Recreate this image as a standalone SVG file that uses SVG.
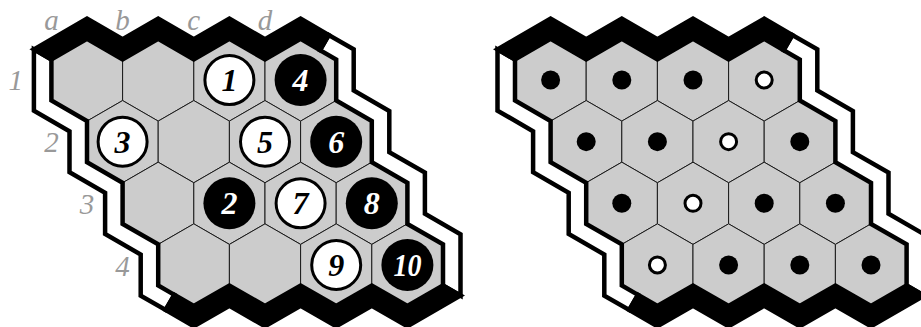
<svg xmlns="http://www.w3.org/2000/svg" xmlns:xlink="http://www.w3.org/1999/xlink" width="921" height="327" viewBox="0 0 921 327">
<style>
.cell{fill:#cccccc;stroke:#1a1a1a;stroke-width:1}
.bk{fill:#000;stroke:#000;stroke-width:4.5;stroke-linejoin:miter}
.wt{fill:#fff;stroke:#000;stroke-width:4.5;stroke-linejoin:miter}
.ws{fill:#fff;stroke:#000;stroke-width:3}
.bs{fill:#000}
.num{font-family:"Liberation Serif",serif;font-style:italic;font-weight:bold;font-size:32px;text-anchor:middle}
.nw{fill:#000}
.nb{fill:#fff}
.lbl{font-family:"Liberation Serif",serif;font-style:italic;font-size:29px;fill:#999;text-anchor:middle}
.dw{fill:#fff;stroke:#000;stroke-width:3}
.db{fill:#000}
</style>
<defs>
<polygon id="hex" points="0,-41.1 35.6,-20.55 35.6,20.55 0,41.1 -35.6,20.55 -35.6,-20.55"/>
<g id="frame">
<polygon class="wt" points="320,50.1 328.75,34.95 353.7,49.35 353.7,90.45 389.3,111 389.3,152.1 424.9,172.65 424.9,213.75 460.5,234.3 460.5,295.6 443,285.5 443,244.4 407.4,223.85 407.4,182.75 371.8,162.2 371.8,121.1 336.2,100.55 336.2,59.45"/>
<polygon class="wt" points="174.4,294.85 158.2,285.5 158.2,244.4 122.6,223.85 122.6,182.75 87,162.2 87,121.1 51.4,100.55 51.4,59.45 33.9,49.35 33.9,110.65 69.5,131.2 69.5,172.3 105.1,192.85 105.1,233.95 140.7,254.5 140.7,295.6 165.65,310"/>
<polygon class="bk" points="33.9,49.35 87,18.7 122.6,39.25 158.2,18.7 193.8,39.25 229.4,18.7 265,39.25 300.6,18.7 328.75,34.95 320,50.1 300.6,38.9 265,59.45 229.4,38.9 193.8,59.45 158.2,38.9 122.6,59.45 87,38.9 51.4,59.45"/>
<polygon class="bk" points="443,285.5 407.4,306.05 371.8,285.5 336.2,306.05 300.6,285.5 265,306.05 229.4,285.5 193.8,306.05 174.4,294.85 165.65,310 193.8,326.25 229.4,305.7 265,326.25 300.6,305.7 336.2,326.25 371.8,305.7 407.4,326.25 460.5,295.6"/>
</g>
</defs>

<g id="left-board">
<g id="L-a1"><use href="#hex" class="cell" x="87" y="80"/></g>
<g id="L-b1"><use href="#hex" class="cell" x="158.2" y="80"/></g>
<g id="L-c1"><use href="#hex" class="cell" x="229.4" y="80"/><circle class="ws" cx="229.4" cy="80" r="24.5"/><text class="num nw" x="229.4" y="91">1</text></g>
<g id="L-d1"><use href="#hex" class="cell" x="300.6" y="80"/><circle class="bs" cx="300.6" cy="80" r="26"/><text class="num nb" x="300.6" y="91">4</text></g>
<g id="L-a2"><use href="#hex" class="cell" x="122.6" y="141.65"/><circle class="ws" cx="122.6" cy="141.65" r="24.5"/><text class="num nw" x="122.6" y="152.65">3</text></g>
<g id="L-b2"><use href="#hex" class="cell" x="193.8" y="141.65"/></g>
<g id="L-c2"><use href="#hex" class="cell" x="265" y="141.65"/><circle class="ws" cx="265" cy="141.65" r="24.5"/><text class="num nw" x="265" y="152.65">5</text></g>
<g id="L-d2"><use href="#hex" class="cell" x="336.2" y="141.65"/><circle class="bs" cx="336.2" cy="141.65" r="26"/><text class="num nb" x="336.2" y="152.65">6</text></g>
<g id="L-a3"><use href="#hex" class="cell" x="158.2" y="203.3"/></g>
<g id="L-b3"><use href="#hex" class="cell" x="229.4" y="203.3"/><circle class="bs" cx="229.4" cy="203.3" r="26"/><text class="num nb" x="229.4" y="214.3">2</text></g>
<g id="L-c3"><use href="#hex" class="cell" x="300.6" y="203.3"/><circle class="ws" cx="300.6" cy="203.3" r="24.5"/><text class="num nw" x="300.6" y="214.3">7</text></g>
<g id="L-d3"><use href="#hex" class="cell" x="371.8" y="203.3"/><circle class="bs" cx="371.8" cy="203.3" r="26"/><text class="num nb" x="371.8" y="214.3">8</text></g>
<g id="L-a4"><use href="#hex" class="cell" x="193.8" y="264.95"/></g>
<g id="L-b4"><use href="#hex" class="cell" x="265" y="264.95"/></g>
<g id="L-c4"><use href="#hex" class="cell" x="336.2" y="264.95"/><circle class="ws" cx="336.2" cy="264.95" r="24.5"/><text class="num nw" x="336.2" y="275.95">9</text></g>
<g id="L-d4"><use href="#hex" class="cell" x="407.4" y="264.95"/><circle class="bs" cx="407.4" cy="264.95" r="26"/><text class="num nb" x="407.4" y="275.95" textLength="28" lengthAdjust="spacingAndGlyphs">10</text></g>
<g id="L-frame"><use href="#frame"/></g>
<g id="L-labels">
<text class="lbl" x="51.4" y="30">a</text>
<text class="lbl" x="122.6" y="30">b</text>
<text class="lbl" x="193.8" y="30">c</text>
<text class="lbl" x="265" y="30">d</text>
<text class="lbl" x="15.8" y="90">1</text>
<text class="lbl" x="51.4" y="152">2</text>
<text class="lbl" x="87" y="213.5">3</text>
<text class="lbl" x="122.6" y="276">4</text>
</g>
</g>

<g id="right-board">
<g id="R-a1"><use href="#hex" class="cell" x="550.6" y="80"/><circle class="db" cx="550.6" cy="80" r="9.5"/></g>
<g id="R-b1"><use href="#hex" class="cell" x="621.8" y="80"/><circle class="db" cx="621.8" cy="80" r="9.5"/></g>
<g id="R-c1"><use href="#hex" class="cell" x="693" y="80"/><circle class="db" cx="693" cy="80" r="9.5"/></g>
<g id="R-d1"><use href="#hex" class="cell" x="764.2" y="80"/><circle class="dw" cx="764.2" cy="80" r="8"/></g>
<g id="R-a2"><use href="#hex" class="cell" x="586.2" y="141.65"/><circle class="db" cx="586.2" cy="141.65" r="9.5"/></g>
<g id="R-b2"><use href="#hex" class="cell" x="657.4" y="141.65"/><circle class="db" cx="657.4" cy="141.65" r="9.5"/></g>
<g id="R-c2"><use href="#hex" class="cell" x="728.6" y="141.65"/><circle class="dw" cx="728.6" cy="141.65" r="8"/></g>
<g id="R-d2"><use href="#hex" class="cell" x="799.8" y="141.65"/><circle class="db" cx="799.8" cy="141.65" r="9.5"/></g>
<g id="R-a3"><use href="#hex" class="cell" x="621.8" y="203.3"/><circle class="db" cx="621.8" cy="203.3" r="9.5"/></g>
<g id="R-b3"><use href="#hex" class="cell" x="693" y="203.3"/><circle class="dw" cx="693" cy="203.3" r="8"/></g>
<g id="R-c3"><use href="#hex" class="cell" x="764.2" y="203.3"/><circle class="db" cx="764.2" cy="203.3" r="9.5"/></g>
<g id="R-d3"><use href="#hex" class="cell" x="835.4" y="203.3"/><circle class="db" cx="835.4" cy="203.3" r="9.5"/></g>
<g id="R-a4"><use href="#hex" class="cell" x="657.4" y="264.95"/><circle class="dw" cx="657.4" cy="264.95" r="8"/></g>
<g id="R-b4"><use href="#hex" class="cell" x="728.6" y="264.95"/><circle class="db" cx="728.6" cy="264.95" r="9.5"/></g>
<g id="R-c4"><use href="#hex" class="cell" x="799.8" y="264.95"/><circle class="db" cx="799.8" cy="264.95" r="9.5"/></g>
<g id="R-d4"><use href="#hex" class="cell" x="871" y="264.95"/><circle class="db" cx="871" cy="264.95" r="9.5"/></g>
<g id="R-frame" transform="translate(463.6,0)"><use href="#frame"/></g>
</g>
</svg>
